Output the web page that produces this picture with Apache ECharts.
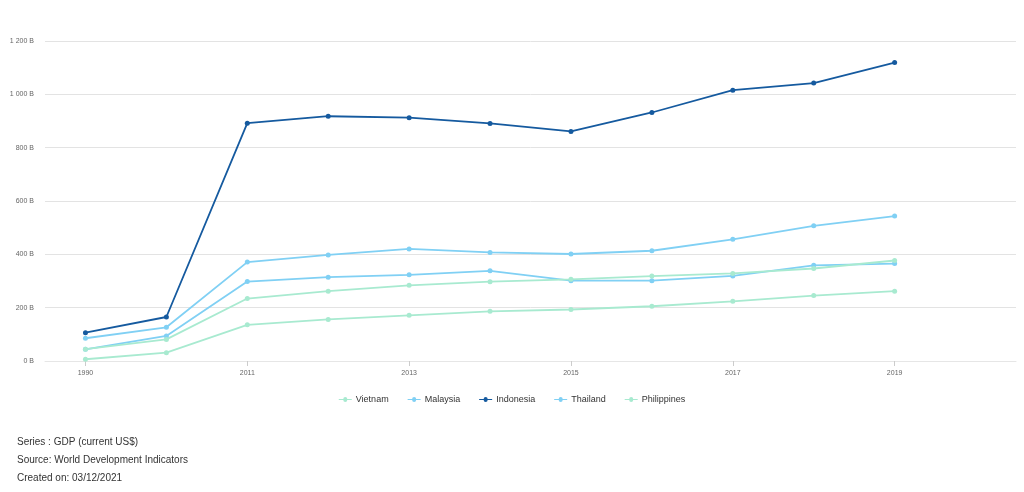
<!DOCTYPE html>
<html><head><meta charset="utf-8">
<script src="https://cdn.jsdelivr.net/npm/echarts@6/dist/echarts.min.js"></script>
<style>html,body{margin:0;padding:0;background:#fff;}#c{width:1024px;height:492px;}</style>
</head><body><div id="c"></div>
<script>
// Values in billions of current US$
const categories = ['1990','2000','2011','2012','2013','2014','2015','2016','2017','2018','2019','2020'];
const vietnam     = [6.5, 31.2, 135.5, 155.8, 171.2, 186.2, 193.2, 205.3, 223.8, 245.2, 261.9, null];
const malaysia    = [44.0, 93.8, 297.9, 314.4, 323.3, 338.1, 301.4, 301.3, 319.1, 358.7, 365.3, null];
const indonesia   = [106.1, 165.0, 892.0, 917.9, 912.5, 890.8, 860.9, 931.9, 1015.6, 1042.3, 1119.2, null];
const thailand    = [85.3, 126.4, 370.8, 397.6, 420.3, 407.3, 401.3, 413.4, 456.4, 506.8, 543.5, null];
const philippines = [44.3, 81.0, 234.2, 261.9, 283.9, 297.5, 306.4, 318.6, 328.5, 346.8, 376.8, null];
const seriesNames = ['Vietnam','Malaysia','Indonesia','Thailand','Philippines'];
const seriesData = [vietnam, malaysia, indonesia, thailand, philippines];
const colors = ['#a8ead0','#80d0f4','#155a9f','#80d0f4','#a8ead0'];

const chart = echarts.init(document.getElementById('c'), null, {renderer:'canvas'});
function fmt(v){ return String(v).replace(/\B(?=(\d{3})+(?!\d))/g,' ') + ' B'; }
chart.setOption({
  animation:false,
  color: colors,
  grid:{left:45, right:8, top:41, bottom:131, containLabel:false},
  legend:{
    top: 390, left:'center', itemGap:19, itemWidth:13, itemHeight:6,
    icon:'path://M0,2.6 L4.5,2.6 A2,2 0 1 1 8.5,2.6 L13,2.6 L13,3.4 L8.5,3.4 A2,2 0 1 1 4.5,3.4 L0,3.4 Z',
    textStyle:{fontFamily:'Liberation Sans, Arial', fontSize:9, color:'#333', padding:[0,0,0,-1]},
    data: seriesNames
  },
  xAxis:{
    type:'category', data:categories, boundaryGap:true,
    axisLine:{show:true, lineStyle:{color:'#e6e6e6'}},
    axisTick:{show:true, alignWithLabel:true, interval:1, length:5, lineStyle:{color:'#ccc'}},
    axisLabel:{interval:1, fontFamily:'Liberation Sans, Arial', fontSize:7, color:'#666', margin:9},
    splitLine:{show:false}
  },
  yAxis:{
    type:'value', min:0, max:1200, interval:200,
    axisLine:{show:false}, axisTick:{show:false},
    axisLabel:{formatter:fmt, fontFamily:'Liberation Sans, Arial', fontSize:7, color:'#666', margin:11},
    splitLine:{lineStyle:{color:'#e3e3e3', width:1}}
  },
  series: seriesNames.map((n,i)=>({
    name:n, type:'line', data:seriesData[i],
    symbol:'circle', symbolSize:5, showSymbol:true,
    lineStyle:{width:1.8, color:colors[i]},
    itemStyle:{color:colors[i]},
    z: n==='Indonesia'?5:2
  })),
  graphic:[
    {type:'text', left:17, top:437, style:{text:'Series : GDP (current US$)', font:'10px "Liberation Sans", Arial', fill:'#333'}},
    {type:'text', left:17, top:455, style:{text:'Source: World Development Indicators', font:'10px "Liberation Sans", Arial', fill:'#333'}},
    {type:'text', left:17, top:473, style:{text:'Created on: 03/12/2021', font:'10px "Liberation Sans", Arial', fill:'#333'}}
  ]
});
</script></body></html>
